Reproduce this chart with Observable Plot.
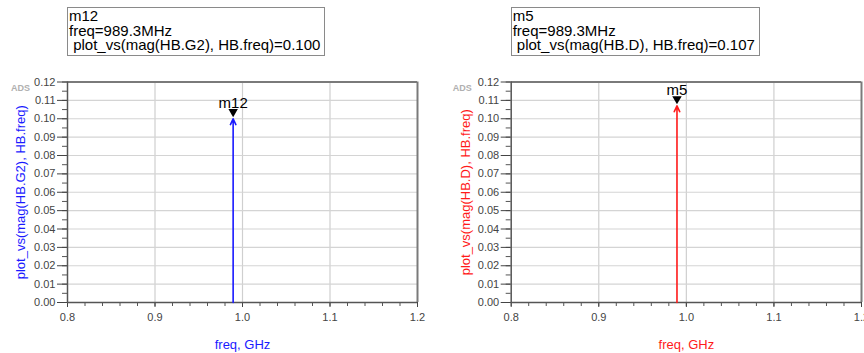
<!DOCTYPE html>
<html>
<head>
<meta charset="utf-8">
<script src="https://cdn.jsdelivr.net/npm/d3@7"></script>
<script src="https://cdn.jsdelivr.net/npm/@observablehq/plot@0.6"></script>
<style>
  html, body { margin: 0; padding: 0; background: #fff; }
  body { width: 864px; height: 353px; overflow: hidden; font-family: "Liberation Sans", Arial, sans-serif; }
  #wrap { position: relative; width: 864px; height: 353px; }
  .panel { position: absolute; top: 0; width: 432px; height: 353px; }
  .panel svg { position: absolute; left: 0; top: 0; overflow: visible; }
  .readout {
    position: absolute; top: 7px;
    border: 1px solid #8a8a8a; background: #fff;
    font-size: 15px; line-height: 14.6px; color: #000;
    padding: 1px 4px 2px 1px; white-space: pre;
  }
</style>
</head>
<body>
<div id="wrap"></div>
<script>
// Marker readouts for the two harmonic-balance traces
const markerNames = ["m12", "m5"];
const markerFreqGHz = [0.9893, 0.9893];
const markerValues = [0.100, 0.107];
const traceExprs = ["plot_vs(mag(HB.G2), HB.freq)", "plot_vs(mag(HB.D), HB.freq)"];
const xAxisLabel = "freq, GHz";
const xTicks = [0.8, 0.9, 1.0, 1.1, 1.2];
const yTicks = [0.00, 0.01, 0.02, 0.03, 0.04, 0.05, 0.06, 0.07, 0.08, 0.09, 0.10, 0.11, 0.12];

const traceColors = ["#1a1aff", "#ff1a1a"];
const layout = [
  {left: 0, marginLeft: 67, marginRight: 15, yLabelDx: -47, adsDx: -47},
  {left: 432, marginLeft: 78.7, marginRight: 3, yLabelDx: -45, adsDx: -49}
];

const xMinor = d3.range(0.8, 1.2001, 0.02).map(v => +v.toFixed(2));
const yMinor = d3.range(0, 0.1201, 0.005).map(v => +v.toFixed(3));
const font = '"Liberation Sans", Arial, sans-serif';
const wrap = document.getElementById("wrap");

markerNames.forEach((name, i) => {
  const L = layout[i];
  const color = traceColors[i];
  const pt = [{f: markerFreqGHz[i], v: markerValues[i], name}];

  const chart = Plot.plot({
    width: 432,
    height: 353,
    marginTop: 81.5,
    marginBottom: 51,
    marginLeft: L.marginLeft,
    marginRight: L.marginRight,
    style: {fontFamily: font, background: "transparent", overflow: "visible"},
    x: {domain: [0.8, 1.2]},
    y: {domain: [0, 0.12]},
    marks: [
      Plot.gridX({ticks: [0.9, 1.0, 1.1], stroke: "#cfcfcf", strokeOpacity: 1, strokeWidth: 1.2}),
      Plot.gridY({ticks: yTicks, stroke: "#d4d4d4", strokeOpacity: 1, strokeWidth: 1.2}),
      // minor ticks
      Plot.axisY({ticks: yMinor, tickSize: 5, tickFormat: () => "", label: null, color: "#555"}),
      Plot.axisX({ticks: xMinor, tickSize: 4, tickFormat: () => "", label: null, color: "#555"}),
      // major ticks and labels
      Plot.axisY({ticks: yTicks, tickSize: 10, tickPadding: 2, tickFormat: d3.format(".2f"),
                  label: null, fontSize: 11, color: "#444"}),
      Plot.axisX({ticks: xTicks, tickSize: 5, tickPadding: 6, tickFormat: d3.format(".1f"),
                  label: null, fontSize: 11, color: "#444"}),
      // plot frame
      Plot.ruleY([0.12], {stroke: "#7a7a7a", strokeWidth: 2}),
      Plot.ruleX([1.2], {stroke: "#7a7a7a", strokeWidth: 2}),
      Plot.ruleX([0.8], {stroke: "#555", strokeWidth: 1.5}),
      Plot.ruleY([0], {stroke: "#555", strokeWidth: 1.5}),
      // spectral line
      Plot.arrow(pt, {x1: "f", x2: "f", y1: () => 0, y2: "v", stroke: color, strokeWidth: 1.6,
                      headLength: 6, headAngle: 50}),
      // marker triangle and name
      Plot.dot(pt, {x: "f", y: "v", symbol: "triangle", r: 3.5, rotate: 180, fill: "#000",
                    stroke: "none", dy: -7}),
      Plot.text(pt, {x: "f", y: "v", text: "name", fontSize: 15, fill: "#000", dy: -16,
                     lineAnchor: "middle", textAnchor: "middle"}),
      // axis titles
      Plot.text([traceExprs[i]], {frameAnchor: "left", rotate: -90, dx: L.yLabelDx, fontSize: 13,
                                  fill: color, textAnchor: "middle", lineAnchor: "middle"}),
      Plot.text([xAxisLabel], {frameAnchor: "bottom", dy: 42, fontSize: 13, fill: color,
                               textAnchor: "middle", lineAnchor: "middle"}),
      Plot.text(["ADS"], {frameAnchor: "top-left", dx: L.adsDx, dy: 6.5, fontSize: 9,
                          fontWeight: "bold", fill: "#b0b0b0", textAnchor: "middle", lineAnchor: "middle"})
    ]
  });

  const panel = document.createElement("div");
  panel.className = "panel";
  panel.style.left = L.left + "px";
  panel.appendChild(chart);

  const box = document.createElement("div");
  box.className = "readout";
  box.style.left = L.marginLeft + "px";
  box.textContent = `${name}\nfreq=${(markerFreqGHz[i] * 1000).toFixed(1)}MHz\n ${traceExprs[i]}=${markerValues[i].toFixed(3)}`;
  panel.appendChild(box);

  wrap.appendChild(panel);
});
</script>
</body>
</html>
